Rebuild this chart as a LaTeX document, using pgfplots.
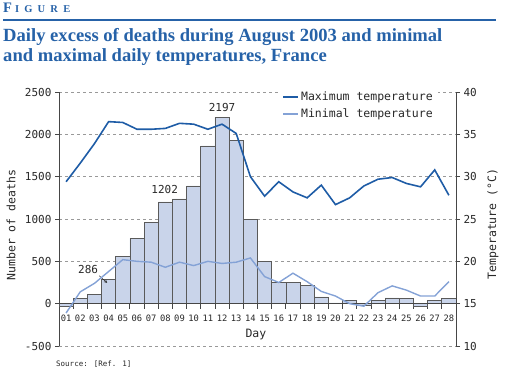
\documentclass[border=0pt]{standalone}
\usepackage{pgfplots}
\pgfplotsset{compat=1.18}
\usepackage{fontspec}
\setmainfont{DejaVu Sans Mono}
\newfontfamily\titlefont{Liberation Serif}
\definecolor{titleblue}{RGB}{38,98,168}
\definecolor{maxblue}{RGB}{30,92,166}
\definecolor{minblue}{RGB}{132,162,214}
\definecolor{barfill}{RGB}{201,212,234}
\definecolor{bardraw}{RGB}{90,90,90}
\definecolor{axcol}{RGB}{70,70,70}
\definecolor{txt}{RGB}{40,40,40}
\pgfplotstableread{
day deaths tmax tmin
1 -30 29.4 13.9
2 60 31.6 16.4
3 110 33.9 17.4
4 286 36.5 18.8
5 554 36.4 20.2
6 770 35.6 20.0
7 959 35.6 19.9
8 1202 35.7 19.3
9 1238 36.3 19.9
10 1391 36.2 19.5
11 1863 35.6 20.0
12 2197 36.2 19.75
13 1930 35.1 19.9
14 990 30.0 20.4
15 495 27.7 18.2
16 250 29.4 17.5
17 250 28.2 18.6
18 215 27.5 17.6
19 80 29.0 16.45
20 8 26.7 15.9
21 40 27.5 15.0
22 -15 28.9 14.7
23 35 29.7 16.3
24 67 29.9 17.1
25 60 29.2 16.6
26 -30 28.8 15.9
27 35 30.8 15.9
28 65 27.8 17.6
}\datatable
\begin{document}
\begin{tikzpicture}[x=1pt,y=1pt]
\useasboundingbox (0,0) rectangle (505,370);
% header
\node[anchor=base west,inner sep=0,text=titleblue] at (3,357) {\titlefont\bfseries\fontsize{14.5}{14.5}\selectfont F\kern3pt{\fontsize{10.5}{10.5}\selectfont I\kern5.2pt G\kern5.2pt U\kern5.2pt R\kern5.2pt E}};
\draw[titleblue,line width=1.4pt] (3,350) -- (496,350);
\node[anchor=base west,inner sep=0,text=titleblue,align=left] at (3,328) {\titlefont\bfseries\fontsize{18.6}{20}\selectfont Daily excess of deaths during August 2003 and minimal};
\node[anchor=base west,inner sep=0,text=titleblue,align=left] at (3,308) {\titlefont\bfseries\fontsize{18.6}{20}\selectfont and maximal daily temperatures, France};
\node[anchor=base west,inner sep=0,text=txt] at (56,4) {\fontsize{7.5}{8}\selectfont Source: [Ref. 1]};
\node[rotate=90,anchor=center,inner sep=0,text=txt,font=\fontsize{11.5}{12}\selectfont] at (493,146) {Temperature (°C)};
\begin{axis}[
  at={(59pt,24pt)}, anchor=south west, scale only axis,
  width=397pt, height=254pt,
  xmin=0.5, xmax=28.5, ymin=-500, ymax=2500,
  axis y line*=left, axis x line*=middle,
  axis line style={axcol, line width=0.8pt},
  ytick={-500,0,...,2500},
  xtick={1,...,28},
  xticklabels={01,02,03,04,05,06,07,08,09,10,11,12,13,14,15,16,17,18,19,20,21,22,23,24,25,26,27,28},
  minor xtick={0.5,1.5,...,28.5},
  tick align=outside,
  major x tick style={draw=none},
  minor tick length=5pt, major tick length=4pt,
  tick style={axcol, line width=0.8pt},
  ymajorgrids, grid style={gray!80, dashed, line width=0.6pt},
  /pgf/number format/assume math mode=true,
  /pgf/number format/1000 sep={},
  yticklabel style={font=\fontsize{11}{11}\selectfont, text=txt},
  xticklabel style={font=\fontsize{8.8}{9}\selectfont, text=txt, anchor=center, yshift=-11pt},
  xticklabel shift=0pt,
  xlabel={Day}, ylabel={Number of deaths},
  xlabel style={at={(axis description cs:0.496,0.045)}, anchor=center, font=\fontsize{11.5}{12}\selectfont, text=txt},
  ylabel style={at={(axis description cs:-0.121,0.476)}, anchor=center, font=\fontsize{11.5}{12}\selectfont, text=txt},
  clip=false,
]
\addplot[ybar, bar width=1, fill=barfill, draw=bardraw, line width=0.7pt] table[x=day,y=deaths] {\datatable};
\draw[axcol, line width=0.8pt] (axis cs:0.5,0) -- (axis cs:28.5,0);
\node[anchor=south,inner sep=0,text=txt,font=\fontsize{11}{11}\selectfont] at (axis cs:12,2197) [yshift=6pt] {2197};
\node[anchor=south,inner sep=0,text=txt,font=\fontsize{11}{11}\selectfont] at (axis cs:7.95,1202) [yshift=8pt] {1202};
\node[anchor=south,inner sep=0,text=txt,font=\fontsize{11}{11}\selectfont] at (axis cs:2.55,354) {286};
\draw[-stealth, txt, line width=0.5pt] (axis cs:3.34,330) -- (axis cs:3.9,245);
\end{axis}
\begin{axis}[
  at={(59pt,24pt)}, anchor=south west, scale only axis,
  width=397pt, height=254pt,
  xmin=0.5, xmax=28.5, ymin=10, ymax=40,
  axis y line*=right, axis x line=none,
  axis line style={axcol, line width=0.8pt},
  ytick={10,15,...,40},
  tick align=outside, major tick length=4pt,
  tick style={axcol, line width=0.8pt},
  /pgf/number format/assume math mode=true,
  yticklabel style={font=\fontsize{11}{11}\selectfont, text=txt},
  legend style={at={(axis description cs:0.555,1.018)}, anchor=north west, fill=white, draw=none, font=\fontsize{11.5}{12}\selectfont, text=txt, row sep=3pt, inner xsep=3pt, inner ysep=2pt},
  legend cell align=left,
  legend image code/.code={\draw[#1] (0pt,0pt) -- (15pt,0pt);},
]
\addplot[maxblue, line width=1.6pt] table[x=day,y=tmax] {\datatable};
\addlegendentry{Maximum temperature}
\addplot[minblue, line width=1.4pt] table[x=day,y=tmin] {\datatable};
\addlegendentry{Minimal temperature}
\end{axis}
\end{tikzpicture}
\end{document}
